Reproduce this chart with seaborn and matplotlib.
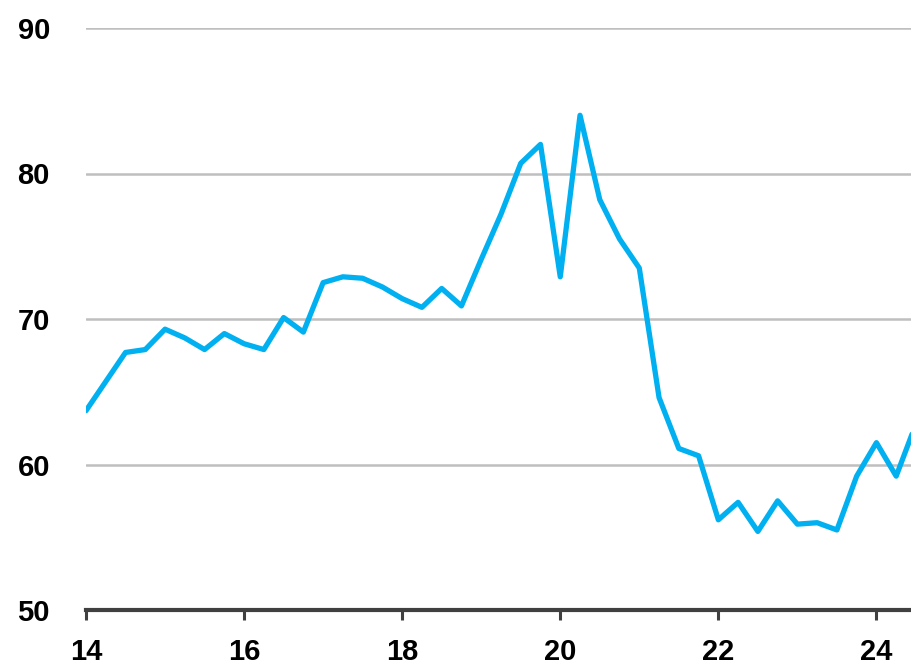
import numpy as np
import pandas as pd
import seaborn as sns
import matplotlib.pyplot as plt

# quarterly series, x in years (14 = 2014)
years = np.arange(14, 24.51, 0.25)
values = [63.7, 65.7, 67.7, 67.9, 69.3, 68.7, 67.9, 69.0,
          68.3, 67.9, 70.1, 69.1, 72.5, 72.9, 72.8, 72.2,
          71.4, 70.8, 72.1, 70.9, 74.1, 77.2, 80.7, 82.0,
          72.9, 84.0, 78.2, 75.5, 73.5, 64.6, 61.1, 60.6,
          56.2, 57.4, 55.4, 57.5, 55.9, 56.0, 55.5, 59.2,
          61.5, 59.2, 62.8]
xticks = [14, 16, 18, 20, 22, 24]
yticks = [50, 60, 70, 80, 90]

df = pd.DataFrame({"x": years, "y": values})

sns.set_style("white")
plt.rcParams['font.family'] = ['Liberation Sans Narrow', 'Liberation Sans', 'DejaVu Sans']

fig = plt.figure(figsize=(9.12, 6.66), dpi=100)
ax = fig.add_axes([86/912, 56/666, 1 - 86/912, (610 - 28)/666])

for yv in yticks[1:]:
    ax.axhline(yv, color="#bfbfbf", lw=1.8, zorder=0)

sns.lineplot(data=df, x="x", y="y", color="#00b0f0", lw=3.8, ax=ax)

ax.set_xlim(14, 24.45)
ax.set_ylim(50, 90)
ax.set_xticks(xticks)
ax.set_yticks(yticks)
ax.set_xticklabels([str(t) for t in xticks], fontsize=21, fontweight="bold", color="black")
ax.set_yticklabels([str(t) for t in yticks], fontsize=21, fontweight="bold", color="black")
ax.set_xlabel("")
ax.set_ylabel("")

for s in ["top", "right", "left"]:
    ax.spines[s].set_visible(False)
ax.spines["bottom"].set_color("#404040")
ax.spines["bottom"].set_linewidth(3)
ax.spines["bottom"].set_zorder(5)
ax.tick_params(axis="x", direction="out", length=7, width=2.2, color="#404040", pad=13, bottom=True)
ax.tick_params(axis="y", length=0, pad=26)

fig.savefig("out.png", dpi=100)
